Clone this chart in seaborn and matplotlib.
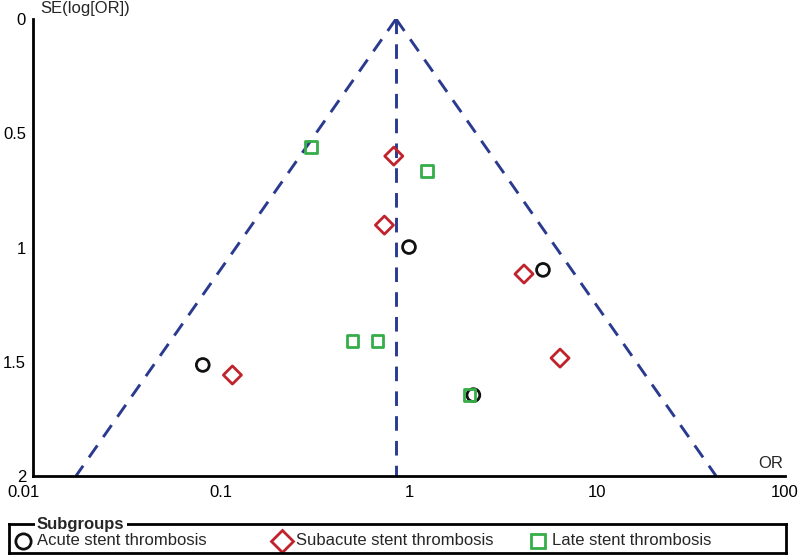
import numpy as np
import pandas as pd
import matplotlib
matplotlib.use("Agg")
import matplotlib.pyplot as plt
import matplotlib.transforms as mtransforms
from matplotlib.ticker import FixedLocator, FixedFormatter, NullLocator
import seaborn as sns

# study estimates
acute_or = [0.080, 1.00, 5.16, 2.20]
acute_se = [1.514, 0.998, 1.098, 1.646]

subacute_or = [0.83, 0.74, 4.09, 6.36, 0.115]
subacute_se = [0.600, 0.902, 1.116, 1.484, 1.558]

late_or = [0.30, 1.25, 0.50, 0.68, 2.10]
late_se = [0.560, 0.665, 1.409, 1.409, 1.646]

pooled_or = 0.853
funnel_se = [0.0, 2.0]

x_ticks = [0.01, 0.1, 1, 10, 100]
x_labels = ["0.01", "0.1", "1", "10", "100"]
y_ticks = [0, 0.5, 1, 1.5, 2]
y_labels = ["0", "0.5", "1", "1.5", "2"]

groups = ["Acute stent thrombosis", "Subacute stent thrombosis", "Late stent thrombosis"]

df = pd.concat([
    pd.DataFrame({"OR": acute_or, "SE": acute_se, "group": groups[0]}),
    pd.DataFrame({"OR": subacute_or, "SE": subacute_se, "group": groups[1]}),
    pd.DataFrame({"OR": late_or, "SE": late_se, "group": groups[2]}),
])

sns.set_style("white")
plt.rcParams["font.family"] = ["Liberation Sans", "DejaVu Sans"]
plt.rcParams["font.size"] = 12

blue = "#2a3a8f"
colors = {groups[0]: "#111111", groups[1]: "#c0232c", groups[2]: "#35ad48"}
markers = {groups[0]: "o", groups[1]: "D", groups[2]: "s"}
sizes = {groups[0]: 85, groups[1]: 85, groups[2]: 70}

fig = plt.figure(figsize=(8, 5.6), dpi=100)
ax = fig.add_axes([33 / 800, 1 - 476 / 560, (785 - 33) / 800, (476 - 19) / 560])

# funnel (95% limits around pooled OR)
se = np.array(funnel_se)
lo = np.exp(np.log(pooled_or) - 1.96 * se)
hi = np.exp(np.log(pooled_or) + 1.96 * se)
dash = dict(color=blue, lw=2.1, dashes=(5, 3.5))
ax.plot(lo, se, **dash)
ax.plot(hi, se, **dash)
ax.plot([pooled_or, pooled_or], funnel_se, **dash)

for g in groups:
    sub = df[df["group"] == g]
    sns.scatterplot(data=sub, x="OR", y="SE", ax=ax, marker=markers[g],
                    s=sizes[g], facecolor="none", edgecolor=colors[g],
                    linewidth=2.0, legend=False, zorder=3)

ax.set_xscale("log")
ax.set_xlim(0.01, 100)
ax.set_ylim(2, 0)
ax.xaxis.set_major_locator(FixedLocator(x_ticks))
ax.xaxis.set_major_formatter(FixedFormatter(x_labels))
ax.xaxis.set_minor_locator(NullLocator())
ax.yaxis.set_major_locator(FixedLocator(y_ticks))
ax.yaxis.set_major_formatter(FixedFormatter(y_labels))
ax.set_xlabel("")
ax.set_ylabel("")

for s in ["top", "right"]:
    ax.spines[s].set_visible(False)
for s in ["left", "bottom"]:
    ax.spines[s].set_linewidth(2.0)
    ax.spines[s].set_color("black")
ax.tick_params(axis="both", direction="inout", length=9, width=2.0,
               colors="black", labelsize=12)
ax.tick_params(axis="x", pad=2)
ax.tick_params(axis="y", pad=0.5)

# first x label sits a little left of its tick, as in the original
fig.canvas.draw()
first = ax.get_xticklabels()[0]
first.set_transform(first.get_transform() +
                    mtransforms.ScaledTranslation(-10 / 100, 0, fig.dpi_scale_trans))

fig.text(40 / 800, 1 - 8 / 560, "SE(log[OR])", fontsize=12, va="center", ha="left")
fig.text(783 / 800, 1 - 464 / 560, "OR", fontsize=12, va="center", ha="right")

# legend panel with title sitting on the border
lax = fig.add_axes([9 / 800, 1 - 553 / 560, 777 / 800, 29 / 560])
lax.set_xlim(0, 777)
lax.set_ylim(0, 29)
lax.set_xticks([])
lax.set_yticks([])
for s in lax.spines.values():
    s.set_linewidth(2.0)
    s.set_color("black")
leg_marker_x = [14, 273, 529]
leg_marker_size = {groups[0]: 11, groups[1]: 11, groups[2]: 10}
for g, mx in zip(groups, leg_marker_x):
    lax.plot([mx], [12.5], marker=markers[g], ls="none", markerfacecolor="none",
             markeredgecolor=colors[g], markeredgewidth=2.0,
             markersize=leg_marker_size[g], clip_on=False)
    lax.text(mx + 14, 12.5, g, fontsize=12, va="center", ha="left")
lax.text(28, 29, "Subgroups", fontsize=12, fontweight="bold", va="center",
         ha="left", bbox=dict(facecolor="white", edgecolor="none", pad=1.5),
         clip_on=False)

fig.savefig("out.png", dpi=100)
